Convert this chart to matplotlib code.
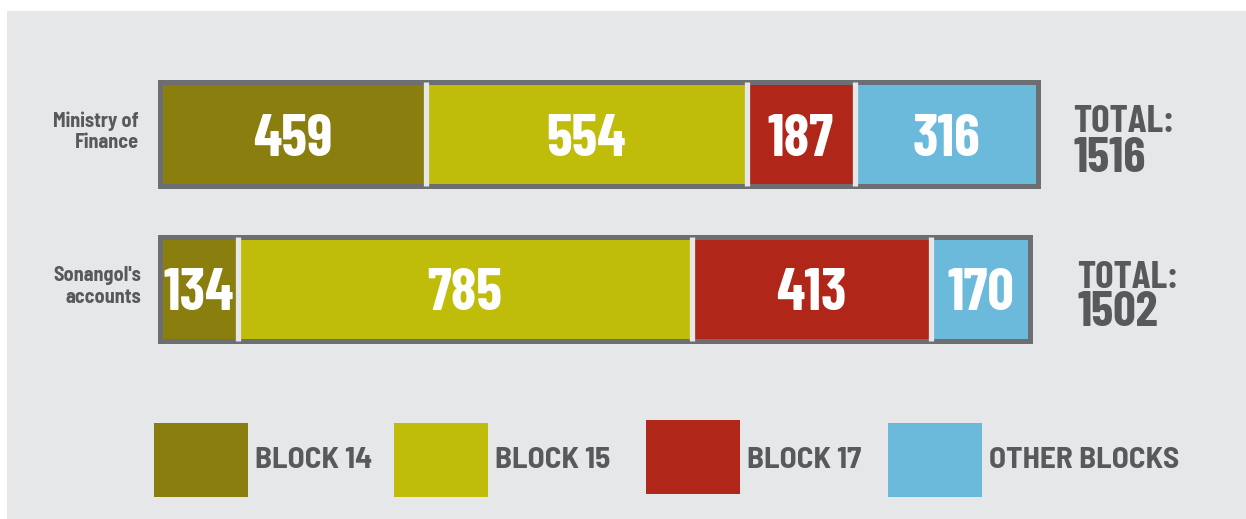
import matplotlib
matplotlib.use('Agg')
import matplotlib.pyplot as plt
from matplotlib.patches import Rectangle

# Data
sources = ['Ministry of\nFinance', "Sonangol's\naccounts"]
blocks = ['BLOCK 14', 'BLOCK 15', 'BLOCK 17', 'OTHER BLOCKS']
block14 = [459, 134]
block15 = [554, 785]
block17 = [187, 413]
other_blocks = [316, 170]

colors = ['#8a7e0f', '#c0bc0a', '#b0271a', '#6bbadb']
BG = '#e6e7e8'
BORDER = '#6d6e71'
TXT = '#58595b'
FONT = dict(family=['Barlow Condensed', 'DejaVu Sans'], fontstretch='condensed', fontweight='bold')
FONT_SEMI = dict(family=['Barlow Semi Condensed', 'Barlow Condensed', 'DejaVu Sans'],
                 fontstretch='condensed', fontweight='bold')

W, H = 1246, 519
fig = plt.figure(figsize=(W / 100, H / 100), dpi=100, facecolor='white')

# layout layer in pixel coordinates
lay = fig.add_axes([0, 0, 1, 1])
lay.set_xlim(0, W)
lay.set_ylim(H, 0)
lay.axis('off')
lay.add_patch(Rectangle((7, 11), W - 7, H - 11, facecolor=BG, edgecolor='none'))

# bar layer: x in data units, y in pixels
x0_px = 160
scale = 878 / 1516  # px per unit
ax = fig.add_axes([0, 0, 1, 1])
ax.patch.set_alpha(0)
ax.set_xlim(-x0_px / scale, (W - x0_px) / scale)
ax.set_ylim(H, 0)
ax.axis('off')

row_y = [133.5, 288.5]
bar_h = 104
series = [block14, block15, block17, other_blocks]

for r, y in enumerate(row_y):
    left = 0
    for s, vals in enumerate(series):
        v = vals[r]
        ax.barh(y, v, left=left, height=bar_h, color=colors[s], edgecolor='none')
        ax.text(left + v / 2, y + 22, str(v), ha='center', va='baseline',
                color='white', fontsize=42, **FONT)
        if s > 0:
            ax.vlines(left, y - bar_h / 2, y + bar_h / 2, color=BG, linewidth=3.8)
        left += v
    total = left
    ax.add_patch(Rectangle((0, y - bar_h / 2), total, bar_h, facecolor='none',
                           edgecolor=BORDER, linewidth=3.6, joinstyle='miter'))

# row labels and totals
label_x = [139, 141]
total_x = [1073, 1077]
for r, y in enumerate(row_y):
    lay.text(label_x[r], y - 2, sources[r], ha='right', va='center', color=TXT,
             fontsize=14.5, linespacing=1.15, **FONT_SEMI)
    tot = block14[r] + block15[r] + block17[r] + other_blocks[r]
    lay.text(total_x[r], y - 1, 'TOTAL:', ha='left', va='baseline', color=TXT,
             fontsize=28, **FONT)
    lay.text(total_x[r], y + 38, str(tot), ha='left', va='baseline', color=TXT,
             fontsize=36, **FONT)

# legend
leg_x = [154, 394, 646, 888]
leg_y = [423, 423, 420, 423]
for i, name in enumerate(blocks):
    lay.add_patch(Rectangle((leg_x[i], leg_y[i]), 94, 74, facecolor=colors[i], edgecolor='none'))
    lay.text(leg_x[i] + 101, 468, name, ha='left', va='baseline', color=TXT,
             fontsize=22.5, **FONT_SEMI)

fig.savefig('out.png', dpi=100, facecolor='white')
